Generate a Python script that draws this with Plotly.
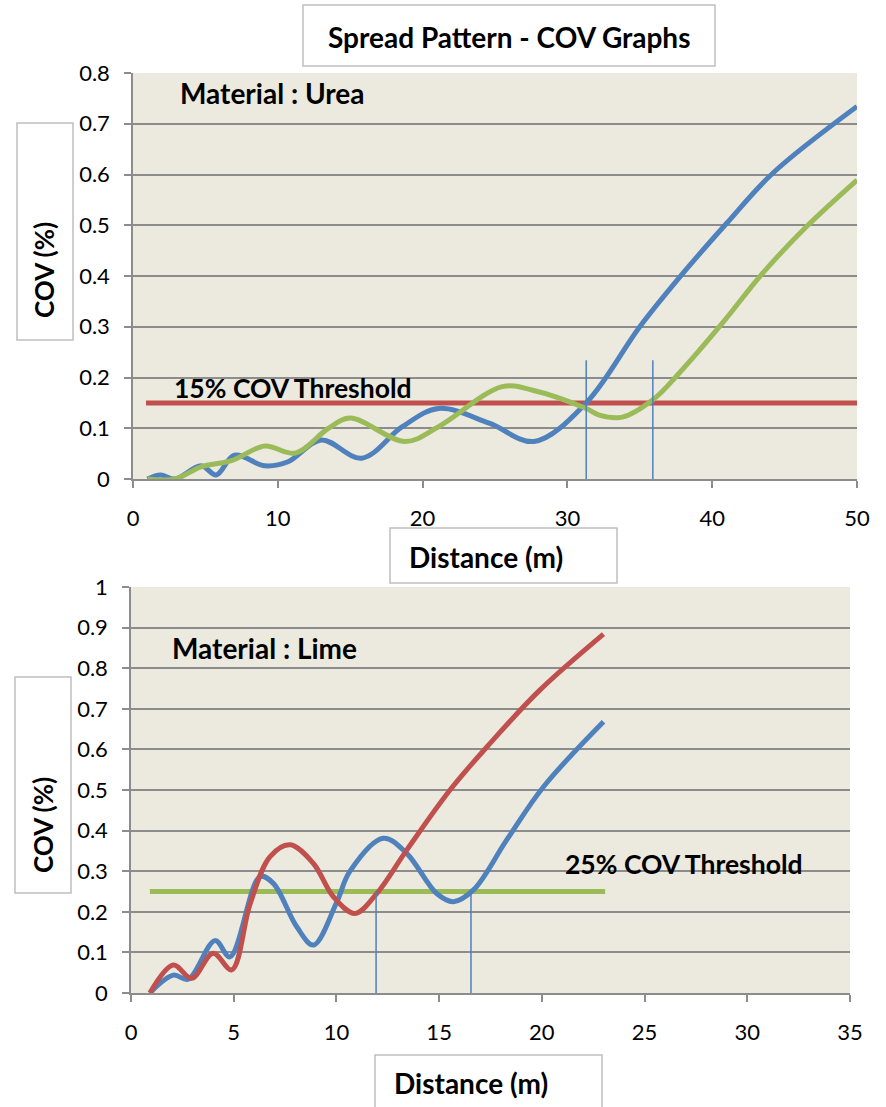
import plotly.graph_objects as go

# ---- Urea (top chart) ----
urea_blue_x = [1, 1.9, 2.9, 4.7, 5.75, 7.0, 9.1, 10.7, 13.0, 15.8, 18.6, 21.1, 24.6, 27.7, 31.3, 35.0, 38.0, 41.0, 44.2, 50]
urea_blue_y = [0.0, 0.008, 0.0, 0.026, 0.008, 0.047, 0.026, 0.034, 0.077, 0.041, 0.103, 0.139, 0.110, 0.074, 0.150, 0.300, 0.406, 0.504, 0.603, 0.734]
urea_green_x = [1, 2.9, 4.7, 6.8, 9.1, 11.2, 13.5, 15.0, 18.8, 21.1, 25.5, 27.6, 31.3, 32.2, 33.8, 35.9, 37.7, 40.7, 43.5, 46.5, 50]
urea_green_y = [0.0, 0.0, 0.024, 0.036, 0.065, 0.051, 0.100, 0.120, 0.074, 0.103, 0.182, 0.175, 0.139, 0.126, 0.122, 0.156, 0.208, 0.307, 0.406, 0.497, 0.589]
urea_threshold_x = [0.9, 50]
urea_threshold_y = [0.15, 0.15]
urea_cross_x = [31.3, 35.9]
urea_cross_top = 0.234

# ---- Lime (bottom chart) ----
lime_blue_x = [0.92, 2.06, 2.79, 4.09, 4.82, 6.28, 6.93, 8.07, 8.88, 10.0, 10.66, 12.28, 13.42, 14.88, 15.69, 16.67, 18.29, 20.08, 23.0]
lime_blue_y = [0.0, 0.044, 0.034, 0.129, 0.089, 0.287, 0.27, 0.163, 0.118, 0.222, 0.300, 0.381, 0.344, 0.245, 0.225, 0.254, 0.377, 0.508, 0.668]
lime_red_x = [0.92, 2.06, 2.95, 4.0, 4.9, 5.8, 6.77, 7.74, 8.88, 9.85, 10.9, 11.96, 13.42, 15.53, 17.48, 19.9, 23.0]
lime_red_y = [0.0, 0.069, 0.036, 0.098, 0.057, 0.22, 0.336, 0.365, 0.319, 0.237, 0.196, 0.245, 0.352, 0.5, 0.615, 0.746, 0.884]
lime_threshold_x = [0.92, 23.08]
lime_threshold_y = [0.25, 0.25]
lime_cross_x = [11.93, 16.55]
lime_cross_top = 0.25

BLUE = "#4F81BD"
RED = "#C0504D"
GREEN = "#9BBB59"
GRID = "#8C8C8C"
FONT = "Lato"
LW = 5

W, H = 886, 1107


def px(x):
    return x / W


def py(y):
    return 1 - y / H


fig = go.Figure()

line_kw = dict(mode="lines", line_shape="spline", showlegend=False, hoverinfo="skip")
fig.add_trace(go.Scatter(x=urea_threshold_x, y=urea_threshold_y, line=dict(color=RED, width=LW), mode="lines", showlegend=False))
fig.add_trace(go.Scatter(x=urea_blue_x, y=urea_blue_y, line=dict(color=BLUE, width=LW), **line_kw))
fig.add_trace(go.Scatter(x=urea_green_x, y=urea_green_y, line=dict(color=GREEN, width=LW), **line_kw))
for cx in urea_cross_x:
    fig.add_trace(go.Scatter(x=[cx, cx], y=[0, urea_cross_top], mode="lines",
                             line=dict(color=BLUE, width=1.5), showlegend=False))

fig.add_trace(go.Scatter(x=lime_threshold_x, y=lime_threshold_y, line=dict(color=GREEN, width=LW),
                         mode="lines", showlegend=False, xaxis="x2", yaxis="y2"))
fig.add_trace(go.Scatter(x=lime_blue_x, y=lime_blue_y, line=dict(color=BLUE, width=LW), xaxis="x2", yaxis="y2", **line_kw))
fig.add_trace(go.Scatter(x=lime_red_x, y=lime_red_y, line=dict(color=RED, width=LW), xaxis="x2", yaxis="y2", **line_kw))
for cx in lime_cross_x:
    fig.add_trace(go.Scatter(x=[cx, cx], y=[0, lime_cross_top], mode="lines",
                             line=dict(color=BLUE, width=1.5), showlegend=False, xaxis="x2", yaxis="y2"))

axis_common = dict(showline=True, linecolor=GRID, linewidth=1.5, ticks="outside", tickcolor=GRID,
                   ticklen=7, tickwidth=1.5, zeroline=False, automargin=False,
                   tickfont=dict(family=FONT, size=22, color="black"))

fig.update_layout(
    width=W, height=H,
    margin=dict(l=0, r=0, t=0, b=0, pad=0),
    paper_bgcolor="white",
    plot_bgcolor="#ECE9DF",
    font=dict(family=FONT, color="black"),
    xaxis=dict(domain=[px(133), px(857)], range=[0, 50], dtick=10, showgrid=False,
               anchor="y", ticklabelstandoff=12, **axis_common),
    yaxis=dict(domain=[py(479), py(73)], range=[0, 0.8], dtick=0.1, showgrid=True,
               gridcolor=GRID, gridwidth=1.5, anchor="x", ticklabelstandoff=10, **axis_common),
    xaxis2=dict(domain=[px(131), px(850)], range=[0, 35], dtick=5, showgrid=False,
                anchor="y2", ticklabelstandoff=12, **axis_common),
    yaxis2=dict(domain=[py(993), py(587)], range=[0, 1], dtick=0.1, showgrid=True,
                gridcolor=GRID, gridwidth=1.5, anchor="x2", ticklabelstandoff=10, **axis_common),
)

# boxes (title and axis titles)
boxes = [(303, 5, 715, 66), (17, 123, 73, 340), (390, 528, 617, 583),
         (15, 677, 71, 893), (375, 1055, 602, 1115)]
for x0, y0, x1, y1 in boxes:
    fig.add_shape(type="rect", xref="paper", yref="paper", x0=px(x0), x1=px(x1), y0=py(y0), y1=py(y1),
                  line=dict(color="#BFBFBF", width=1.5), fillcolor="white", layer="above")

notes = [
    ("<b>Spread Pattern - COV Graphs</b>", 509, 37, 0, 28),
    ("<b>COV (%)</b>", 44, 270, -90, 26),
    ("<b>Distance (m)</b>", 486, 557, 0, 28),
    ("<b>COV (%)</b>", 43, 825, -90, 26),
    ("<b>Distance (m)</b>", 471, 1083, 0, 28),
]
for text, x, y, ang, size in notes:
    fig.add_annotation(text=text, xref="paper", yref="paper", x=px(x), y=py(y), textangle=ang,
                       showarrow=False, xanchor="center", yanchor="middle",
                       font=dict(family=FONT, size=size, color="black"))

mat = dict(family=FONT, size=28, color="black")
thr = dict(family=FONT, size=26.5, color="black")
fig.add_annotation(text="<b>Material : Urea</b>", x=3.1, y=0.76, xref="x", yref="y",
                   xanchor="left", yanchor="middle", showarrow=False, font=mat)
fig.add_annotation(text="<b>15% COV Threshold</b>", x=2.7, y=0.179, xref="x", yref="y",
                   xanchor="left", yanchor="middle", showarrow=False, font=thr)
fig.add_annotation(text="<b>Material : Lime</b>", x=1.9, y=0.85, xref="x2", yref="y2",
                   xanchor="left", yanchor="middle", showarrow=False, font=mat)
fig.add_annotation(text="<b>25% COV Threshold</b>", x=21.03, y=0.318, xref="x2", yref="y2",
                   xanchor="left", yanchor="middle", showarrow=False, font=thr)

fig.write_html("out.html", config={"displayModeBar": False},
               post_script="document.body.style.margin='0';document.body.style.overflow='hidden';")
